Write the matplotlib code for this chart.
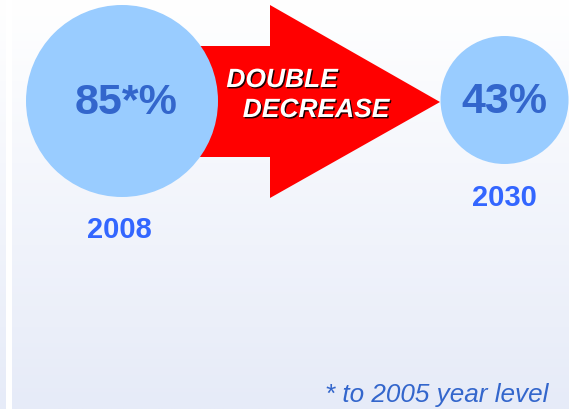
import matplotlib
matplotlib.use("Agg")
import matplotlib.pyplot as plt
import matplotlib.patheffects as pe
import numpy as np
from matplotlib.patches import Circle, Polygon

plt.rcParams['font.family'] = ['Liberation Sans', 'DejaVu Sans']

# Data
years = ["2008", "2030"]
shares = [85, 43]
share_labels = ["85*%", "43%"]
arrow_text = ["DOUBLE", "DECREASE"]
footnote = "* to 2005 year level"

W, H = 569, 410
fig = plt.figure(figsize=(W / 100, H / 100), dpi=100)
ax = fig.add_axes([0, 0, 1, 1])
ax.set_xlim(0, W)
ax.set_ylim(H, 0)
ax.axis('off')

# background gradient
top = np.array([255, 255, 255]) / 255
bot = np.array([230, 235, 248]) / 255
t = np.linspace(0, 1, 256)[:, None]
grad = top + (bot - top) * t
img = np.repeat(grad[:, None, :], 2, axis=1)
ax.imshow(img, extent=[0, W, H, 0], aspect='auto', zorder=0)
ax.axvspan(6, 12, color='white', zorder=0.5, lw=0)

# layout
centers = [(122, 102), (504.5, 101)]
radii = [96, 64]
year_y = [230, 198]
circle_color = '#99CCFF'
big_color = '#3366CC'
year_color = '#3366FF'

# arrow (behind left circle)
arrow = Polygon([(190, 47), (270, 47), (270, 6), (440, 103),
                 (270, 199), (270, 158), (190, 158)],
                closed=True, facecolor='#FF0000', edgecolor='none', zorder=1)
ax.add_patch(arrow)

for (cx, cy), r, lab, yr, yy in zip(centers, radii, share_labels, years, year_y):
    ax.add_patch(Circle((cx, cy), r, facecolor=circle_color, edgecolor='none', zorder=2))
    ax.text(cx + 4 if lab.endswith('*%') else cx, cy + 1, lab, ha='center', va='center',
            fontsize=31, fontweight='bold', color=big_color, zorder=3)
    ax.text(cx - 3 if lab.endswith('*%') else cx, yy, yr, ha='center', va='center',
            fontsize=21, fontweight='bold', color=year_color, zorder=3)

shadow = [pe.withSimplePatchShadow(offset=(1.0, -1.0), shadow_rgbFace='black', alpha=0.9)]
ax.text(282, 81, arrow_text[0], ha='center', va='center', fontsize=19,
        fontweight='bold', style='italic', color='white', zorder=4, path_effects=shadow)
ax.text(316, 111, arrow_text[1], ha='center', va='center', fontsize=19,
        fontweight='bold', style='italic', color='white', zorder=4, path_effects=shadow)

ax.text(548, 395, footnote, ha='right', va='center', fontsize=18.8,
        style='italic', color=big_color, zorder=3)

fig.savefig('out.png', dpi=100)
